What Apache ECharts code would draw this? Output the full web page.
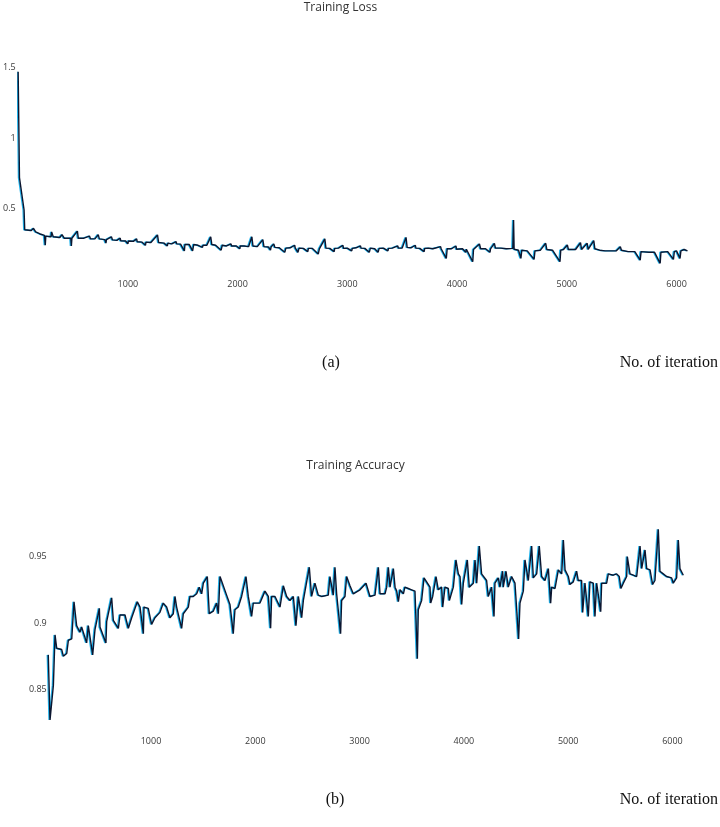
<!DOCTYPE html>
<html><head><meta charset="utf-8">
<script src="https://cdn.jsdelivr.net/npm/echarts@6/dist/echarts.min.js"></script>
<style>html,body{margin:0;padding:0;background:#fff}#c{width:720px;height:827px}</style>
</head><body><div id="c"></div>
<script>
// ---- Training Loss (a) ----
const lossIter = [0,12,54,60,120,140,160,200,240,247,252,300,305,320,380,400,420,480,485,490,540,548,600,650,660,700,730,740,790,800,805,850,860,900,930,935,980,1000,1005,1050,1080,1085,1130,1160,1165,1210,1270,1280,1330,1360,1365,1400,1440,1445,1480,1515,1520,1560,1590,1600,1640,1680,1685,1720,1755,1765,1800,1850,1860,1900,1940,1945,1990,2020,2025,2060,2100,2130,2140,2180,2230,2240,2280,2300,2305,2330,2340,2380,2430,2440,2480,2520,2525,2550,2560,2600,2640,2645,2680,2735,2745,2795,2805,2840,2880,2885,2920,2960,2965,3000,3040,3045,3080,3120,3125,3160,3200,3210,3250,3280,3290,3330,3370,3375,3410,3460,3465,3500,3535,3545,3580,3620,3625,3660,3700,3705,3740,3780,3850,3855,3902,3910,3950,3990,3995,4050,4080,4085,4100,4143,4150,4204,4215,4260,4300,4305,4340,4350,4400,4450,4508,4515,4520,4560,4582,4590,4640,4702,4710,4760,4808,4818,4870,4938,4945,4970,5005,5015,5080,5125,5135,5186,5195,5246,5256,5300,5350,5400,5450,5488,5498,5560,5620,5669,5677,5750,5800,5851,5858,5920,5972,5980,6000,6032,6040,6070,6100];
const lossValues = [1.47,0.72,0.49,0.35,0.345,0.36,0.335,0.32,0.31,0.24,0.305,0.30,0.335,0.30,0.295,0.315,0.29,0.29,0.235,0.29,0.34,0.29,0.29,0.305,0.285,0.285,0.315,0.285,0.28,0.255,0.28,0.30,0.278,0.275,0.29,0.272,0.27,0.25,0.27,0.268,0.285,0.265,0.262,0.24,0.262,0.26,0.313,0.26,0.255,0.235,0.255,0.25,0.265,0.25,0.248,0.20,0.245,0.245,0.20,0.245,0.24,0.225,0.24,0.24,0.30,0.245,0.24,0.205,0.24,0.235,0.25,0.235,0.235,0.215,0.235,0.235,0.23,0.30,0.235,0.23,0.28,0.23,0.228,0.205,0.228,0.25,0.225,0.222,0.19,0.22,0.222,0.24,0.222,0.19,0.22,0.218,0.195,0.218,0.218,0.178,0.215,0.285,0.22,0.218,0.195,0.218,0.22,0.24,0.218,0.22,0.20,0.218,0.222,0.235,0.22,0.218,0.19,0.22,0.215,0.19,0.218,0.22,0.20,0.218,0.22,0.235,0.22,0.22,0.296,0.225,0.222,0.24,0.22,0.218,0.195,0.218,0.22,0.215,0.23,0.215,0.147,0.215,0.215,0.235,0.212,0.215,0.19,0.212,0.21,0.123,0.21,0.249,0.215,0.215,0.19,0.215,0.254,0.22,0.22,0.215,0.218,0.419,0.212,0.205,0.147,0.205,0.20,0.14,0.20,0.205,0.254,0.21,0.205,0.124,0.205,0.21,0.242,0.21,0.21,0.258,0.21,0.254,0.21,0.273,0.215,0.205,0.20,0.20,0.20,0.23,0.205,0.195,0.195,0.135,0.195,0.19,0.19,0.112,0.19,0.195,0.14,0.195,0.20,0.147,0.20,0.21,0.20];

// ---- Training Accuracy (b) ----
const accIter = [15,32,64,80,96,144,160,192,208,240,262,287,319,335,383,399,441,463,505,511,568,575,623,639,687,703,751,783,815,869,895,927,933,974,1006,1038,1086,1118,1150,1182,1214,1230,1246,1294,1310,1358,1374,1406,1438,1463,1486,1502,1540,1559,1598,1630,1646,1662,1725,1757,1789,1805,1837,1869,1911,1933,1965,1981,2045,2093,2125,2147,2157,2189,2237,2269,2301,2333,2365,2390,2413,2445,2461,2518,2540,2572,2604,2636,2700,2716,2748,2764,2780,2818,2828,2860,2876,2908,2940,3004,3062,3100,3148,3180,3196,3244,3260,3276,3292,3324,3340,3356,3372,3388,3420,3435,3467,3499,3531,3554,3563,3595,3618,3643,3675,3682,3701,3733,3755,3787,3797,3819,3851,3861,3899,3924,3947,3963,3979,3995,4033,4052,4091,4107,4123,4148,4170,4218,4234,4266,4289,4298,4330,4346,4372,4378,4404,4426,4458,4490,4525,4538,4570,4586,4618,4650,4666,4698,4723,4746,4778,4810,4832,4842,4874,4906,4938,4954,4970,5002,5017,5049,5081,5097,5129,5139,5161,5193,5209,5241,5257,5273,5312,5321,5369,5385,5433,5465,5490,5506,5529,5561,5567,5593,5625,5657,5689,5705,5737,5753,5785,5810,5832,5864,5880,5912,5944,5992,6008,6040,6056,6072,6104];
const accValues = [0.876,0.827,0.853,0.891,0.881,0.880,0.875,0.877,0.887,0.888,0.916,0.898,0.893,0.897,0.885,0.898,0.876,0.895,0.911,0.897,0.885,0.901,0.919,0.902,0.896,0.906,0.906,0.896,0.904,0.916,0.912,0.892,0.912,0.911,0.899,0.904,0.908,0.915,0.912,0.904,0.907,0.920,0.912,0.896,0.907,0.912,0.920,0.920,0.922,0.927,0.922,0.930,0.935,0.907,0.909,0.915,0.907,0.935,0.921,0.914,0.892,0.910,0.912,0.920,0.935,0.920,0.905,0.915,0.915,0.924,0.920,0.896,0.920,0.920,0.912,0.928,0.920,0.917,0.920,0.898,0.920,0.904,0.917,0.942,0.920,0.930,0.921,0.920,0.921,0.935,0.921,0.942,0.922,0.892,0.917,0.920,0.935,0.928,0.922,0.925,0.930,0.920,0.921,0.942,0.922,0.922,0.927,0.942,0.927,0.941,0.927,0.924,0.916,0.925,0.922,0.927,0.926,0.925,0.924,0.873,0.910,0.917,0.934,0.931,0.927,0.915,0.920,0.935,0.925,0.927,0.912,0.927,0.926,0.917,0.927,0.9475,0.937,0.935,0.914,0.930,0.9475,0.927,0.930,0.9475,0.930,0.958,0.937,0.932,0.920,0.927,0.905,0.930,0.934,0.927,0.939,0.927,0.939,0.927,0.935,0.930,0.888,0.915,0.924,0.9475,0.932,0.958,0.934,0.937,0.958,0.935,0.932,0.941,0.915,0.927,0.926,0.940,0.937,0.9625,0.940,0.935,0.929,0.931,0.939,0.932,0.932,0.908,0.930,0.905,0.931,0.930,0.905,0.930,0.9085,0.930,0.930,0.937,0.936,0.937,0.935,0.926,0.930,0.935,0.950,0.937,0.936,0.935,0.958,0.941,0.955,0.941,0.940,0.929,0.932,0.9706,0.939,0.937,0.935,0.934,0.930,0.934,0.9625,0.941,0.936];

const xTicks = [1000,2000,3000,4000,5000,6000];
const lossYTicks = [0.5,1,1.5];
const accYTicks = [0.85,0.9,0.95];

function pick(ticks){
  return function(v){
    const t = ticks.find(function(k){return Math.abs(k - v) < 1e-6;});
    return t === undefined ? '' : String(t);
  };
}
const labelFont = {fontFamily:'Open Sans', fontSize:9, color:'#3a3a3a'};
const lineStyle = {color:'#0b1630', width:1.4, shadowColor:'rgba(20,175,235,0.95)', shadowBlur:0, shadowOffsetX:-1, shadowOffsetY:0};

const chart = echarts.init(document.getElementById('c'));
chart.setOption({
  animation:false,
  backgroundColor:'#ffffff',
  grid:[
    {left:14.7, right:32.5, top:67.6, bottom:547.9},
    {left:46.7, right:37.1, top:516.8, bottom:97.8}
  ],
  xAxis:[
    {type:'value', gridIndex:0, min:0, max:6100, interval:1000,
     axisLine:{show:false}, axisTick:{show:false}, splitLine:{show:false},
     axisLabel:Object.assign({margin:1, formatter:pick(xTicks)}, labelFont)},
    {type:'value', gridIndex:1, min:0, max:6100, interval:1000,
     axisLine:{show:false}, axisTick:{show:false}, splitLine:{show:false},
     axisLabel:Object.assign({margin:7.5, formatter:pick(xTicks)}, labelFont)}
  ],
  yAxis:[
    {type:'value', gridIndex:0, min:0, max:1.5, interval:0.5,
     axisLine:{show:false}, axisTick:{show:false}, splitLine:{show:false},
     axisLabel:Object.assign({margin:2.5, formatter:pick(lossYTicks)}, labelFont)},
    {type:'value', gridIndex:1, min:0.82, max:0.98, interval:0.01,
     axisLine:{show:false}, axisTick:{show:false}, splitLine:{show:false},
     axisLabel:Object.assign({margin:0, formatter:pick(accYTicks)}, labelFont)}
  ],
  series:[
    {type:'line', xAxisIndex:0, yAxisIndex:0, showSymbol:false, symbol:'none',
     data:lossIter.map(function(x,i){return [x, lossValues[i]];}), lineStyle:lineStyle, silent:true},
    {type:'line', xAxisIndex:1, yAxisIndex:1, showSymbol:false, symbol:'none',
     data:accIter.map(function(x,i){return [x, accValues[i]];}), lineStyle:lineStyle, silent:true}
  ],
  graphic:[
    {type:'text', x:340.5, y:8, style:{text:'Training Loss', textAlign:'center', textVerticalAlign:'middle', font:'12px "Open Sans"', fill:'#333'}},
    {type:'text', x:355.5, y:465.5, style:{text:'Training Accuracy', textAlign:'center', textVerticalAlign:'middle', font:'12px "Open Sans"', fill:'#333'}},
    {type:'text', x:331, y:363, style:{text:'(a)', textAlign:'center', textVerticalAlign:'middle', font:'16px "Liberation Serif"', fill:'#111'}},
    {type:'text', x:718, y:363, style:{text:'No. of iteration', textAlign:'right', textVerticalAlign:'middle', font:'16px "Liberation Serif"', fill:'#111'}},
    {type:'text', x:335, y:800, style:{text:'(b)', textAlign:'center', textVerticalAlign:'middle', font:'16px "Liberation Serif"', fill:'#111'}},
    {type:'text', x:718, y:800, style:{text:'No. of iteration', textAlign:'right', textVerticalAlign:'middle', font:'16px "Liberation Serif"', fill:'#111'}}
  ]
});
</script>
</body></html>
